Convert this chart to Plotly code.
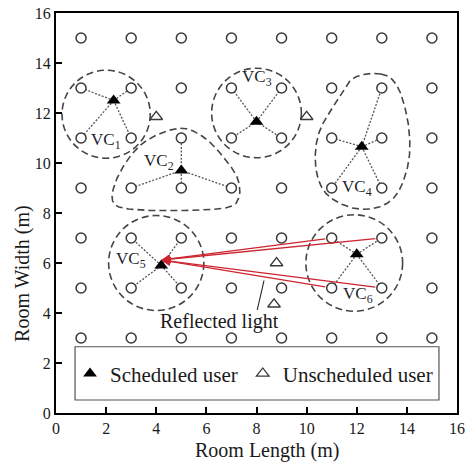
import numpy as np
import plotly.graph_objects as go

# LED transmitter grid (m)
led_cols = [1, 3, 5, 7, 9, 11, 13, 15]
led_rows = [3, 5, 7, 9, 11, 13, 15]

# Scheduled users, one per virtual cell VC1..VC6
sched_x = [2.3, 5.0, 8.0, 12.2, 4.2, 12.0]
sched_y = [12.5, 9.7, 11.65, 10.65, 5.9, 6.35]

# Unscheduled users
unsched_x = [4.0, 10.0, 8.8, 8.7]
unsched_y = [11.85, 11.85, 6.0, 4.35]

# LEDs assigned to each virtual cell
vc_leds = [
    [(1, 13), (3, 13), (1, 11), (3, 11)],
    [(5, 11), (3, 9), (5, 9), (7, 9)],
    [(7, 13), (9, 13), (7, 11), (9, 11)],
    [(13, 13), (11, 11), (13, 11), (11, 9), (13, 9)],
    [(3, 7), (5, 7), (3, 5), (5, 5)],
    [(11, 7), (13, 7), (11, 5), (13, 5)],
]
vc_names = ["1", "2", "3", "4", "5", "6"]
vc_label_x = [2.0, 4.1, 8.0, 12.0, 3.0, 12.05]
vc_label_y = [10.9, 10.05, 13.4, 9.0, 6.12, 4.72]

# Round cell boundaries: centre x, centre y, radius
round_cells = [(2.0, 11.95, 1.76), (8.0, 12.0, 1.79), (4.0, 6.0, 1.9), (11.9, 6.0, 1.93)]
# Free-form cell boundaries (outline knots)
vc2_outline = [(4.96, 11.39), (5.88, 11.04), (6.68, 10.24), (7.24, 9.4), (7.3, 8.64),
               (6.84, 8.22), (5.08, 8.1), (3.08, 8.14), (2.3, 8.4), (2.36, 9.2),
               (2.96, 10.27), (3.76, 10.99)]
vc4_outline = [(12.96, 13.56), (13.63, 13.05), (14.05, 11.6), (14.08, 10.12), (13.63, 8.8),
               (12.83, 8.22), (11.76, 8.22), (10.76, 8.8), (10.36, 9.85), (10.49, 11.2),
               (11.23, 12.52), (11.88, 13.4)]

SERIF = "Liberation Serif"
INK = "#3a3a3a"


def closed_spline(pts, n=30):
    """Periodic Catmull-Rom curve through the knots."""
    p = np.array(pts, dtype=float)
    m = len(p)
    out = []
    for i in range(m):
        p0, p1, p2, p3 = p[(i - 1) % m], p[i], p[(i + 1) % m], p[(i + 2) % m]
        for t in np.linspace(0, 1, n, endpoint=False):
            t2, t3 = t * t, t * t * t
            out.append(0.5 * ((2 * p1) + (-p0 + p2) * t + (2 * p0 - 5 * p1 + 4 * p2 - p3) * t2
                              + (-p0 + 3 * p1 - 3 * p2 + p3) * t3))
    out.append(out[0])
    out = np.array(out)
    return out[:, 0], out[:, 1]


fig = go.Figure()

# cell boundaries
for pts in (vc2_outline, vc4_outline):
    cx, cy = closed_spline(pts)
    fig.add_trace(go.Scatter(x=cx, y=cy, mode="lines", showlegend=False, hoverinfo="skip",
                             line=dict(color="#454545", width=1.6, dash="7px,4px")))
for cx0, cy0, r in round_cells:
    fig.add_shape(type="circle", xref="x", yref="y", x0=cx0 - r, x1=cx0 + r,
                  y0=cy0 - r, y1=cy0 + r, layer="below",
                  line=dict(color="#454545", width=1.6, dash="7px,4px"))

# user-to-LED association links
lx, ly = [], []
for k, leds in enumerate(vc_leds):
    for (ex, ey) in leds:
        lx += [sched_x[k], ex, None]
        ly += [sched_y[k], ey, None]
fig.add_trace(go.Scatter(x=lx, y=ly, mode="lines", showlegend=False, hoverinfo="skip",
                         line=dict(color="#555555", width=1.3, dash="2px,1.6px")))

# LED grid
gx = [c for r in led_rows for c in led_cols]
gy = [r for r in led_rows for c in led_cols]
fig.add_trace(go.Scatter(x=gx, y=gy, mode="markers", showlegend=False,
                         marker=dict(symbol="circle", size=10, color="white",
                                     line=dict(color=INK, width=1.5))))

# users
fig.add_trace(go.Scatter(x=sched_x, y=sched_y, mode="markers", name="Scheduled user",
                         marker=dict(symbol="triangle-up", size=12, color="black",
                                     line=dict(width=0))))
fig.add_trace(go.Scatter(x=unsched_x, y=unsched_y, mode="markers", name="Unscheduled user",
                         marker=dict(symbol="triangle-up-open", size=11, color=INK,
                                     line=dict(width=1.3))))

# reflected light from VC6 LEDs arriving at the VC5 user
tip_x, tip_y = sched_x[4], sched_y[4] + 0.22
for (ex, ey) in vc_leds[5]:
    fig.add_annotation(x=tip_x, y=tip_y, ax=ex, ay=ey, xref="x", yref="y",
                       axref="x", ayref="y", text="", showarrow=True,
                       arrowhead=2, arrowsize=1.4, arrowwidth=1.3,
                       arrowcolor="#cc2530", startstandoff=5)

fig.add_shape(type="line", xref="x", yref="y", x0=8.03, y0=4.12, x1=8.3, y1=5.3,
              line=dict(color="#222222", width=1.1))
fig.add_annotation(x=6.52, y=3.65, xref="x", yref="y", text="Reflected light",
                   showarrow=False, font=dict(family=SERIF, size=20, color="#1a1a1a"))

for name, tx, ty in zip(vc_names, vc_label_x, vc_label_y):
    fig.add_annotation(x=tx, y=ty, xref="x", yref="y", text=f"VC<sub>{name}</sub>",
                       showarrow=False, font=dict(family=SERIF, size=17, color="#1f1f2e"))

# legend frame
fig.add_shape(type="rect", xref="x", yref="y", x0=0.76, x1=15.28, y0=0.52, y1=2.65,
              line=dict(color="#555555", width=1.2), fillcolor="white", layer="below")

# axis titles
fig.add_annotation(x=8.4, y=-0.0925, xref="x", yref="paper", yanchor="middle",
                   text="Room Length (m)", showarrow=False,
                   font=dict(family=SERIF, size=20, color="#1a1a1a"))
fig.add_annotation(x=-0.085, y=5.6, xref="paper", yref="y", xanchor="center",
                   yanchor="middle", text="Room Width (m)", textangle=-90,
                   showarrow=False, font=dict(family=SERIF, size=20, color="#1a1a1a"))

axis_common = dict(range=[0, 16], dtick=2, tick0=0, ticks="inside", ticklen=6,
                   tickwidth=1.5, tickcolor="black", showgrid=False, zeroline=False,
                   showline=True, linecolor="black", linewidth=2, mirror=True,
                   automargin=False,
                   tickfont=dict(family=SERIF, size=16, color="#1a1a1a"))

fig.update_layout(
    width=466, height=465,
    margin=dict(l=56, r=9, t=13, b=52, autoexpand=False),
    paper_bgcolor="white", plot_bgcolor="white",
    xaxis=axis_common, yaxis=axis_common,
    legend=dict(orientation="h", x=0.035, xanchor="left", y=0.098, yanchor="middle",
                bgcolor="rgba(0,0,0,0)", borderwidth=0,
                font=dict(family=SERIF, size=21, color="#1a1a1a")),
)

fig.write_html("out.html")
